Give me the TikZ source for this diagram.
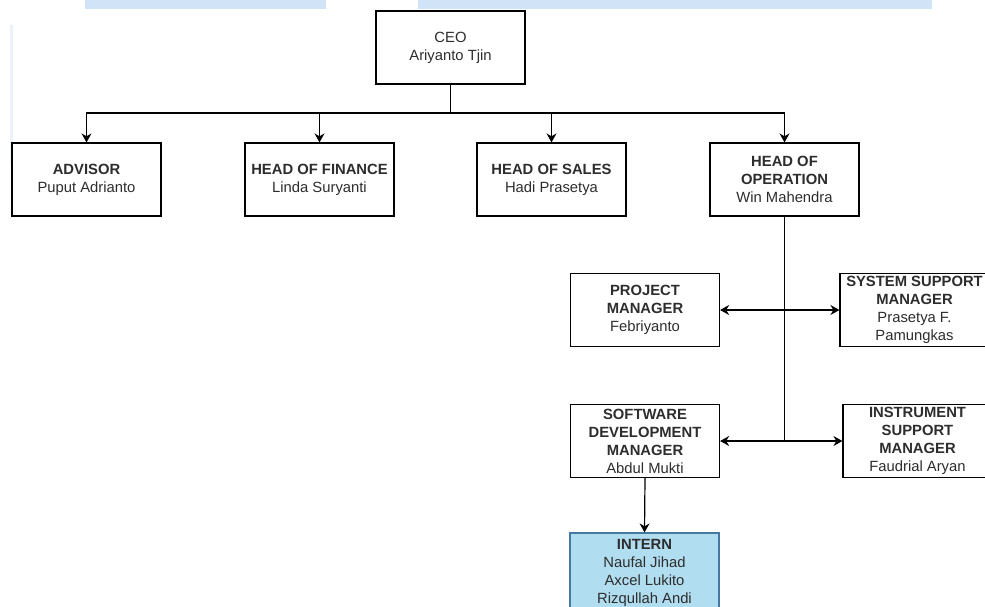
\documentclass[tikz,border=0pt]{standalone}
\usepackage{fontspec}
\setmainfont{Liberation Sans}
\usetikzlibrary{arrows.meta}
\definecolor{bandblue}{RGB}{208,227,247}
\definecolor{internfill}{RGB}{177,221,240}
\definecolor{internline}{RGB}{70,120,160}
\definecolor{txtgray}{RGB}{45,45,45}

\begin{document}
\begin{tikzpicture}[x=1pt,y=-1pt,
    post/.style = {draw, line width=1.2pt, fill=white, minimum width=149pt,
        minimum height=73pt, inner sep=0pt, align=center, text=txtgray,
        font=\fontsize{14.8}{18}\selectfont},
    internpost/.style = {post, fill=internfill, draw=internline, minimum height=80pt},
    link/.style = {line width=1.2pt, -{Stealth[length=9pt,width=10pt]}},
    duallink/.style = {line width=1.2pt, {Stealth[length=9pt,width=10pt]}-{Stealth[length=9pt,width=10pt]}}]
\useasboundingbox (0,0) rectangle (985,606);
\clip (0,0) rectangle (985,606);
\fill[bandblue] (85,0) rectangle (326,9);
\fill[bandblue] (418,0) rectangle (932,9);
\fill[bandblue!45] (10,25) rectangle (13,165);

\node[post] (ceo) at (450.5,47.5) {CEO\\Ariyanto Tjin};
\node[post] (advisor) at (86.5,179.5) {\textbf{ADVISOR}\\Puput Adrianto};
\node[post] (finance) at (319.5,179.5) {\textbf{HEAD OF FINANCE}\\Linda Suryanti};
\node[post] (sales) at (551.5,179.5) {\textbf{HEAD OF SALES}\\Hadi Prasetya};
\node[post] (operation) at (784.5,179.5) {\textbf{HEAD OF}\\\textbf{OPERATION}\\Win Mahendra};
\node[post] (project) at (645,310) {\textbf{PROJECT}\\\textbf{MANAGER}\\Febriyanto};
\node[post] (system) at (914.5,310) {\textbf{SYSTEM SUPPORT}\\\textbf{MANAGER}\\Prasetya F.\\Pamungkas};
\node[post] (software) at (645,441) {\textbf{SOFTWARE}\\\textbf{DEVELOPMENT}\\\textbf{MANAGER}\\Abdul Mukti};
\node[post] (instrument) at (917.5,441) {\textbf{INSTRUMENT}\\\textbf{SUPPORT}\\\textbf{MANAGER}\\Faudrial Aryan};
\node[internpost] (intern) at (644.5,573) {\textbf{INTERN}\\Naufal Jihad\\Axcel Lukito\\Rizqullah Andi};

\coordinate (bus) at (450.5,113);
\coordinate (trunk) at (784.5,441);

\draw[link] (ceo.south) -- (bus) -| (advisor.north);
\draw[link] (ceo.south) -- (bus) -| (finance.north);
\draw[link] (ceo.south) -- (bus) -| (sales.north);
\draw[link] (ceo.south) -- (bus) -| (operation.north);
\draw[line width=1.2pt] (operation.south) -- (trunk);
\draw[duallink] (project.east) -- (system.west);
\draw[duallink] (software.east) -- (instrument.west);
\draw[link] (software.south) -- (intern.north);
\end{tikzpicture}
\end{document}
